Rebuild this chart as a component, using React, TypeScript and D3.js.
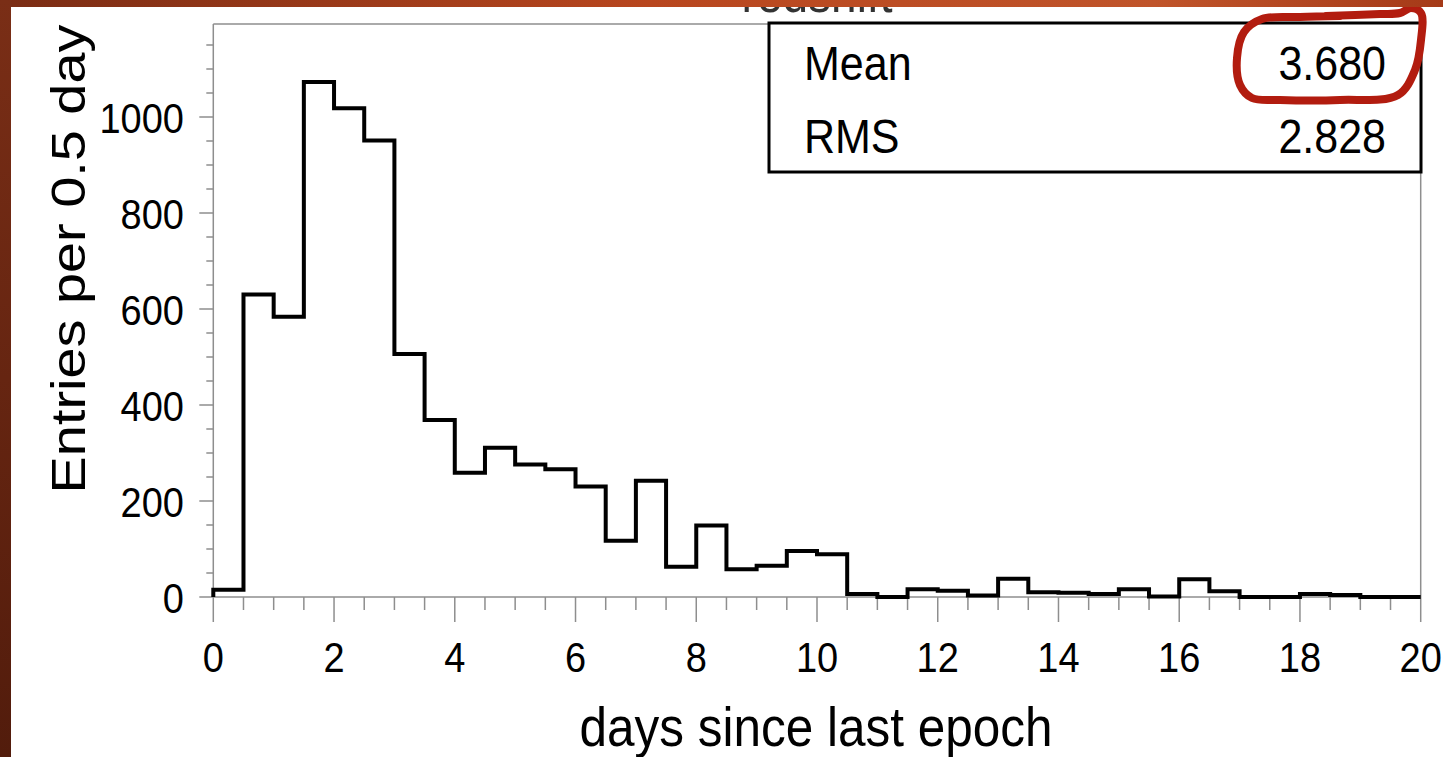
import React from "react";
import * as d3 from "d3";

// ---- data ----
const binWidth = 0.5;
const counts: number[] = [
  15, 630, 584, 1073, 1018, 951, 506, 369, 259, 311,
  276, 266, 230, 117, 242, 63, 149, 58, 65, 96,
  89, 6, 0, 16, 13, 3, 38, 10, 9, 6,
  16, 1, 37, 12, 0, 0, 6, 4, 0, 0,
];
const xMajorTicks: number[] = [0, 2, 4, 6, 8, 10, 12, 14, 16, 18, 20];
const yMajorTicks: number[] = [0, 200, 400, 600, 800, 1000];
const xTitle = "days since last epoch";
const yTitle = "Entries per 0.5 day";
const plotTitle = "redshift";
const statLabels: string[] = ["Mean", "RMS"];
const statValues: string[] = ["3.680", "2.828"];

const W = 1443;
const H = 757;
const FONT = "'Liberation Sans', Arial, Helvetica, sans-serif";
const GREY = "#8e8e8e";

const x = d3.scaleLinear().domain([0, 20]).range([213.3, 1420.7]);
const y = d3.scaleLinear().domain([0, 1000]).range([597, 117]);

const xMinorTicks = d3.range(0, 20.0001, 0.5).filter((v) => Math.abs(v / 2 - Math.round(v / 2)) > 1e-6);
const yMinorTicks = d3.range(0, 1151, 50).filter((v) => v % 200 !== 0);

function T(props: {
  x: number; y: number; size: number; anchor?: string; sx?: number; sy?: number; rotate?: number;
  children: React.ReactNode; fill?: string;
}) {
  const { x: tx, y: ty, size, anchor = "start", sx = 1, sy = 1.12, rotate = 0, children, fill = "#000" } = props;
  return (
    <text
      transform={`translate(${tx},${ty}) rotate(${rotate}) scale(${sx},${sy})`}
      fontFamily={FONT}
      fontSize={size}
      textAnchor={anchor}
      fill={fill}
    >
      {children}
    </text>
  );
}

export default function App() {
  // histogram outline points
  const pts: [number, number][] = [[0, 0]];
  counts.forEach((c, i) => {
    pts.push([i * binWidth, c]);
    pts.push([(i + 1) * binWidth, c]);
  });
  pts.push([counts.length * binWidth, 0]);
  const histLine = d3.line<[number, number]>().x((d) => x(d[0])).y((d) => y(d[1]))(pts) || "";

  const frameTop = 24;
  const x0 = x(0);
  const x1 = x(20);
  const yBase = y(0);

  // red hand-drawn annotation loop around the mean value
  const loopPts: [number, number][] = [
    [1326, 16], [1380, 14], [1400, 13], [1411, 8], [1421, 13], [1421, 40],
    [1415, 70], [1398, 95], [1340, 100], [1280, 100], [1252, 98], [1240, 85],
    [1237, 58], [1244, 32], [1262, 19], [1300, 17], [1340, 16],
  ];
  const loopPath = d3.line().curve(d3.curveCatmullRom)(loopPts) || "";

  return (
    <div style={{ position: "absolute", left: 0, top: 0, width: W, height: H }}>
      <svg width={W} height={H} viewBox={`0 0 ${W} ${H}`} style={{ display: "block" }}>
        <defs>
          <linearGradient id="topband" x1="0" x2="1" y1="0" y2="0">
            <stop offset="0" stopColor="#7a2c14" />
            <stop offset="0.45" stopColor="#b8461e" />
            <stop offset="0.8" stopColor="#c0542a" />
            <stop offset="1" stopColor="#a53a18" />
          </linearGradient>
          <linearGradient id="leftband" x1="0" x2="0" y1="0" y2="1">
            <stop offset="0" stopColor="#7a2e16" />
            <stop offset="1" stopColor="#521c0c" />
          </linearGradient>
        </defs>
        <rect x={0} y={0} width={W} height={H} fill="#ffffff" />

        {/* partially hidden title */}
        <T x={817} y={12} size={46} anchor="middle" fill="#333">{plotTitle}</T>

        {/* frame lines */}
        <line x1={x0} x2={x1} y1={frameTop} y2={frameTop} stroke={GREY} strokeWidth={1.5} />
        <line x1={x1} x2={x1} y1={frameTop} y2={yBase} stroke={GREY} strokeWidth={1.5} />
        <line x1={x0} x2={x0} y1={frameTop} y2={yBase} stroke={GREY} strokeWidth={1.5} />
        <line x1={x0} x2={x1} y1={yBase} y2={yBase} stroke={GREY} strokeWidth={1.5} />

        {/* y ticks */}
        {yMajorTicks.map((v) => (
          <g key={`ym${v}`}>
            <line x1={x0 - 14} x2={x0} y1={y(v)} y2={y(v)} stroke={GREY} strokeWidth={1.5} />
            <T x={184} y={y(v) + 16} size={38} anchor="end">{String(v)}</T>
          </g>
        ))}
        {yMinorTicks.map((v) => (
          <line key={`yn${v}`} x1={x0 - 7} x2={x0} y1={y(v)} y2={y(v)} stroke={GREY} strokeWidth={1.5} />
        ))}

        {/* x ticks */}
        {xMajorTicks.map((v) => (
          <g key={`xm${v}`}>
            <line x1={x(v)} x2={x(v)} y1={yBase} y2={yBase + 25} stroke={GREY} strokeWidth={1.5} />
            <T x={x(v)} y={672} size={38} anchor="middle">{String(v)}</T>
          </g>
        ))}
        {xMinorTicks.map((v) => (
          <line key={`xn${v}`} x1={x(v)} x2={x(v)} y1={yBase} y2={yBase + 13} stroke={GREY} strokeWidth={1.5} />
        ))}

        {/* histogram */}
        <path d={histLine} fill="none" stroke="#000" strokeWidth={4} strokeLinejoin="miter" />

        {/* axis titles */}
        <T x={816} y={746} size={49.5} anchor="middle">{xTitle}</T>
        <T x={85} y={259} size={49} anchor="middle" rotate={-90} sx={1.14} sy={1}>{yTitle}</T>

        {/* stats box */}
        <rect x={769} y={23} width={652} height={149} fill="#fff" stroke="#000" strokeWidth={3} />
        {statLabels.map((lab, i) => (
          <g key={lab}>
            <T x={804} y={80 + i * 73} size={43} sy={1.13}>{lab}</T>
            <T x={1386} y={80 + i * 73} size={43} sy={1.13} anchor="end">{statValues[i]}</T>
          </g>
        ))}

        {/* red annotation */}
        <path d={loopPath} fill="none" stroke="#b21c0f" strokeWidth={8} strokeLinecap="round" strokeLinejoin="round" />

        {/* slide border */}
        <rect x={0} y={0} width={W} height={7} fill="url(#topband)" />
        <rect x={0} y={0} width={11} height={H} fill="url(#leftband)" />
      </svg>
    </div>
  );
}
